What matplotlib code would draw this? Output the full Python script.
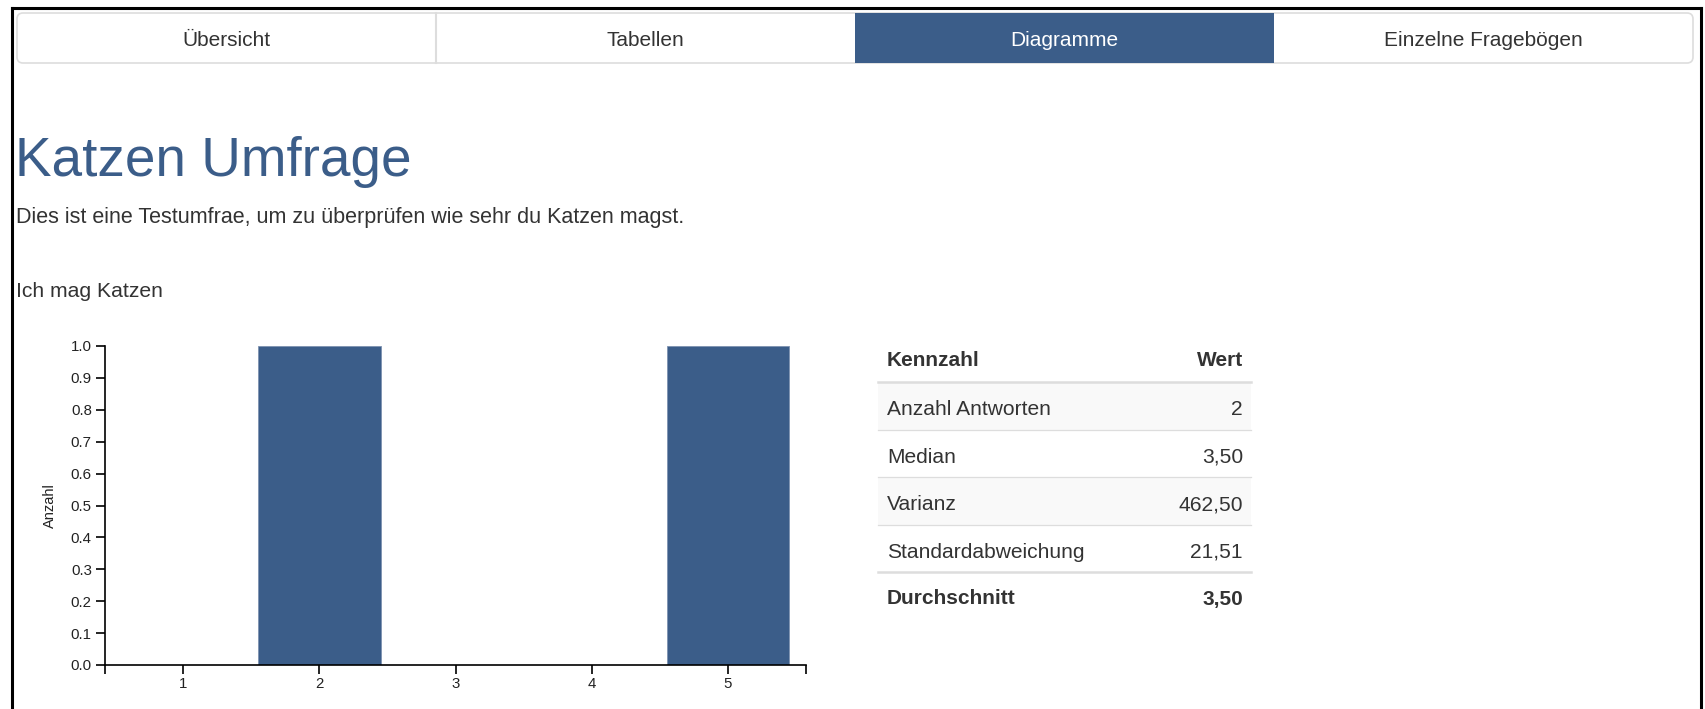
import matplotlib.pyplot as plt
from matplotlib.patches import Rectangle, FancyBboxPatch

# fonts
plt.rcParams['font.family'] = ['Liberation Sans', 'DejaVu Sans']

# page texts
TABS = ['Übersicht', 'Tabellen', 'Diagramme', 'Einzelne Fragebögen']
ACTIVE_TAB = 2
TITLE = 'Katzen Umfrage'
DESCRIPTION = 'Dies ist eine Testumfrae, um zu überprüfen wie sehr du Katzen magst.'
QUESTION = 'Ich mag Katzen'

# chart data
categories = [1, 2, 3, 4, 5]
counts = [0, 1, 0, 0, 1]
y_ticks = [0.0, 0.1, 0.2, 0.3, 0.4, 0.5, 0.6, 0.7, 0.8, 0.9, 1.0]

# table data
table_header = ['Kennzahl', 'Wert']
table_labels = ['Anzahl Antworten', 'Median', 'Varianz', 'Standardabweichung']
table_values = ['2', '3,50', '462,50', '21,51']
table_footer = ['Durchschnitt', '3,50']

BLUE = '#3b5d89'
TEXT = '#333333'
BORDER = '#dddddd'

W, H = 1706, 709
fig = plt.figure(figsize=(W / 100, H / 100), dpi=100)

# background axes in pixel coordinates (y down)
bg = fig.add_axes([0, 0, 1, 1])
bg.set_xlim(0, W)
bg.set_ylim(H, 0)
bg.axis('off')

# outer black frame
bg.plot([12, 12], [H, 8], color='black', lw=2.2, solid_capstyle='projecting')
bg.plot([12, 1701], [8, 8], color='black', lw=2.2, solid_capstyle='projecting')
bg.plot([1701, 1701], [8, H], color='black', lw=2.2, solid_capstyle='projecting')

# tabs
tab_left, tab_right, tab_top, tab_bottom = 17, 1693, 13, 63
tab_w = (tab_right - tab_left) / len(TABS)
bg.add_patch(FancyBboxPatch((tab_left, tab_top), tab_right - tab_left, tab_bottom - tab_top,
                            boxstyle='round,pad=0,rounding_size=6',
                            facecolor='white', edgecolor=BORDER, lw=1.2))
for i, name in enumerate(TABS):
    x0 = tab_left + i * tab_w
    if i == ACTIVE_TAB:
        bg.add_patch(Rectangle((x0, tab_top), tab_w, tab_bottom - tab_top,
                               facecolor=BLUE, edgecolor='none'))
        color = 'white'
    else:
        color = TEXT
        if i > 0 and i - 1 != ACTIVE_TAB:
            bg.plot([x0, x0], [tab_top, tab_bottom], color=BORDER, lw=1.5)
    bg.text(x0 + tab_w / 2, (tab_top + tab_bottom) / 2 + 2, name, ha='center', va='center',
            fontsize=15, color=color)

# headings
bg.text(15, 176, TITLE, fontsize=39.5, color=BLUE, va='baseline', ha='left')
bg.text(16, 223, DESCRIPTION, fontsize=15.5, color=TEXT, va='baseline', ha='left')
bg.text(16, 297, QUESTION, fontsize=15.2, color=TEXT, va='baseline', ha='left')

# statistics table
t_left, t_right = 878, 1251
txt_left, txt_right = 887, 1243
bg.text(txt_left, 360, table_header[0], fontsize=15, fontweight='bold', color=TEXT, va='center')
bg.text(txt_right, 360, table_header[1], fontsize=15, fontweight='bold', color=TEXT,
        va='center', ha='right')
row_top = 382
row_h = 47.5
for i, (label, value) in enumerate(zip(table_labels, table_values)):
    y0 = row_top + i * row_h
    if i % 2 == 0:
        bg.add_patch(Rectangle((t_left, y0), t_right - t_left, row_h,
                               facecolor='#f9f9f9', edgecolor='none'))
    if i > 0:
        bg.plot([t_left, t_right], [y0, y0], color=BORDER, lw=0.9)
    bg.text(txt_left, y0 + row_h / 2 + 4, label, fontsize=15.1, color=TEXT, va='center')
    bg.text(txt_right, y0 + row_h / 2 + 4, value, fontsize=15.1, color=TEXT, va='center',
            ha='right')
bg.plot([t_left, t_right], [row_top, row_top], color=BORDER, lw=1.8)
foot_y = row_top + len(table_labels) * row_h
bg.plot([t_left, t_right], [foot_y, foot_y], color=BORDER, lw=1.8)
bg.text(txt_left, foot_y + 27, table_footer[0], fontsize=15, fontweight='bold', color=TEXT,
        va='center')
bg.text(txt_right, foot_y + 27, table_footer[1], fontsize=15, fontweight='bold', color=TEXT,
        va='center', ha='right')

# bar chart
ax_l, ax_r, ax_t, ax_b = 105, 806, 346, 665
ax = fig.add_axes([ax_l / W, 1 - ax_b / H, (ax_r - ax_l) / W, (ax_b - ax_t) / H])
ax.patch.set_alpha(0)
ax.bar(categories, counts, width=0.9, color=BLUE, edgecolor='#7d92b0', lw=0.6)
ax.set_xlim(0.426, 5.574)
ax.set_ylim(0, 1)
ax.set_xticks(categories)
ax.set_xticks([0.426, 5.574], minor=True)
ax.set_yticks(y_ticks)
ax.set_yticklabels([f'{v:.1f}' for v in y_ticks])
for side in ['top', 'right']:
    ax.spines[side].set_visible(False)
for side in ['left', 'bottom']:
    ax.spines[side].set_linewidth(1.2)
ax.tick_params(axis='both', which='both', length=6.5, width=1.2, colors='black',
               labelsize=10.8, labelcolor='#222222')
ax.tick_params(axis='y', pad=3)
ax.tick_params(axis='x', pad=2.5)
ax.set_ylabel('Anzahl', fontsize=10.5, color='#222222', labelpad=10)

fig.savefig('out.png', dpi=100)
